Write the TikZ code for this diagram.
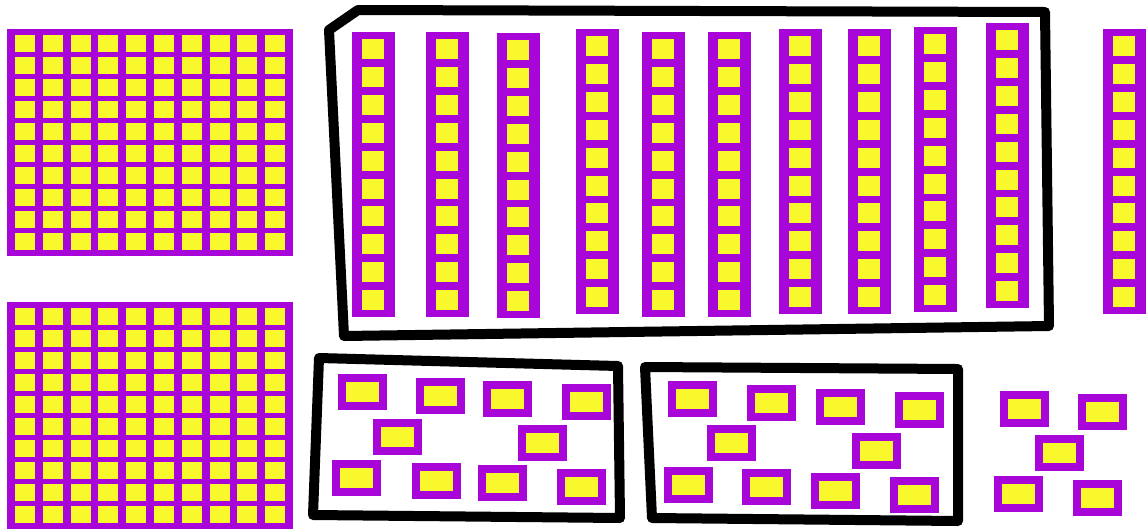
\documentclass[tikz,border=0pt]{standalone}
\usetikzlibrary{calc}
\definecolor{purp}{HTML}{A806D8}
\definecolor{yel}{HTML}{F8F82C}
\begin{document}
\begin{tikzpicture}[x=1pt, y=-1pt,
          flat/.style={fill=purp},
          sq/.style={fill=yel},
          one/.style={rectangle, draw=purp, fill=yel, line width=8pt, minimum width=41pt, minimum height=28pt, inner sep=0pt},
          pen/.style={draw=black, line width=10pt, line join=round}]
        \useasboundingbox (0,0) rectangle (1147,528);
        % hundreds
        \foreach \y in {29, 302}{ \fill[flat] (7,\y) rectangle ++(286,227); \foreach \c in {0,...,9} \foreach \r in {0,...,9} \fill[sq] ({15+27.8*\c},{\y+6+22.04*\r}) rectangle ++(20,16.7); }
        % tens
        \foreach \x/\y in {352/32, 426/32, 497/33, 576/29, 642/32, 708/32, 779/29, 848/29, 914/27, 986/23, 1103/29}{ \fill[flat] (\x,\y) rectangle ++(43,285); \foreach \r in {0,...,9} \fill[sq] ({\x+10},{\y+7+27.9*\r}) rectangle ++(22,20); }
        \draw[pen] (358,10) -- (1045,12) -- (1049,326) -- (344,336) -- (329,30) -- cycle;
        % ones
        \foreach \n/\x/\y in {1/362/392, 2/440/396, 3/507/399, 4/586/402, 5/397/437, 6/542/443, 7/356/478, 8/436/481, 9/502/483, 10/581/487} \node[one] (a\n) at (\x,\y) {};
        \foreach \n/\x/\y in {1/692/399, 2/771/403, 3/840/407, 4/919/410, 5/731/443, 6/876/451, 7/688/485, 8/766/487, 9/835/491, 10/914/495} \node[one] (b\n) at (\x,\y) {};
        \foreach \n/\x/\y in {1/1024/409, 2/1102/412, 3/1059/453, 4/1018/494, 5/1097/498} \node[one] (c\n) at (\x,\y) {};
        \draw[pen] (319,358) -- (618,366) -- (620,518) -- (313,515) -- cycle;
        \draw[pen] (645,367) -- (958,369) -- (958,521) -- (652,518) -- cycle;
      \end{tikzpicture}
\end{document}
